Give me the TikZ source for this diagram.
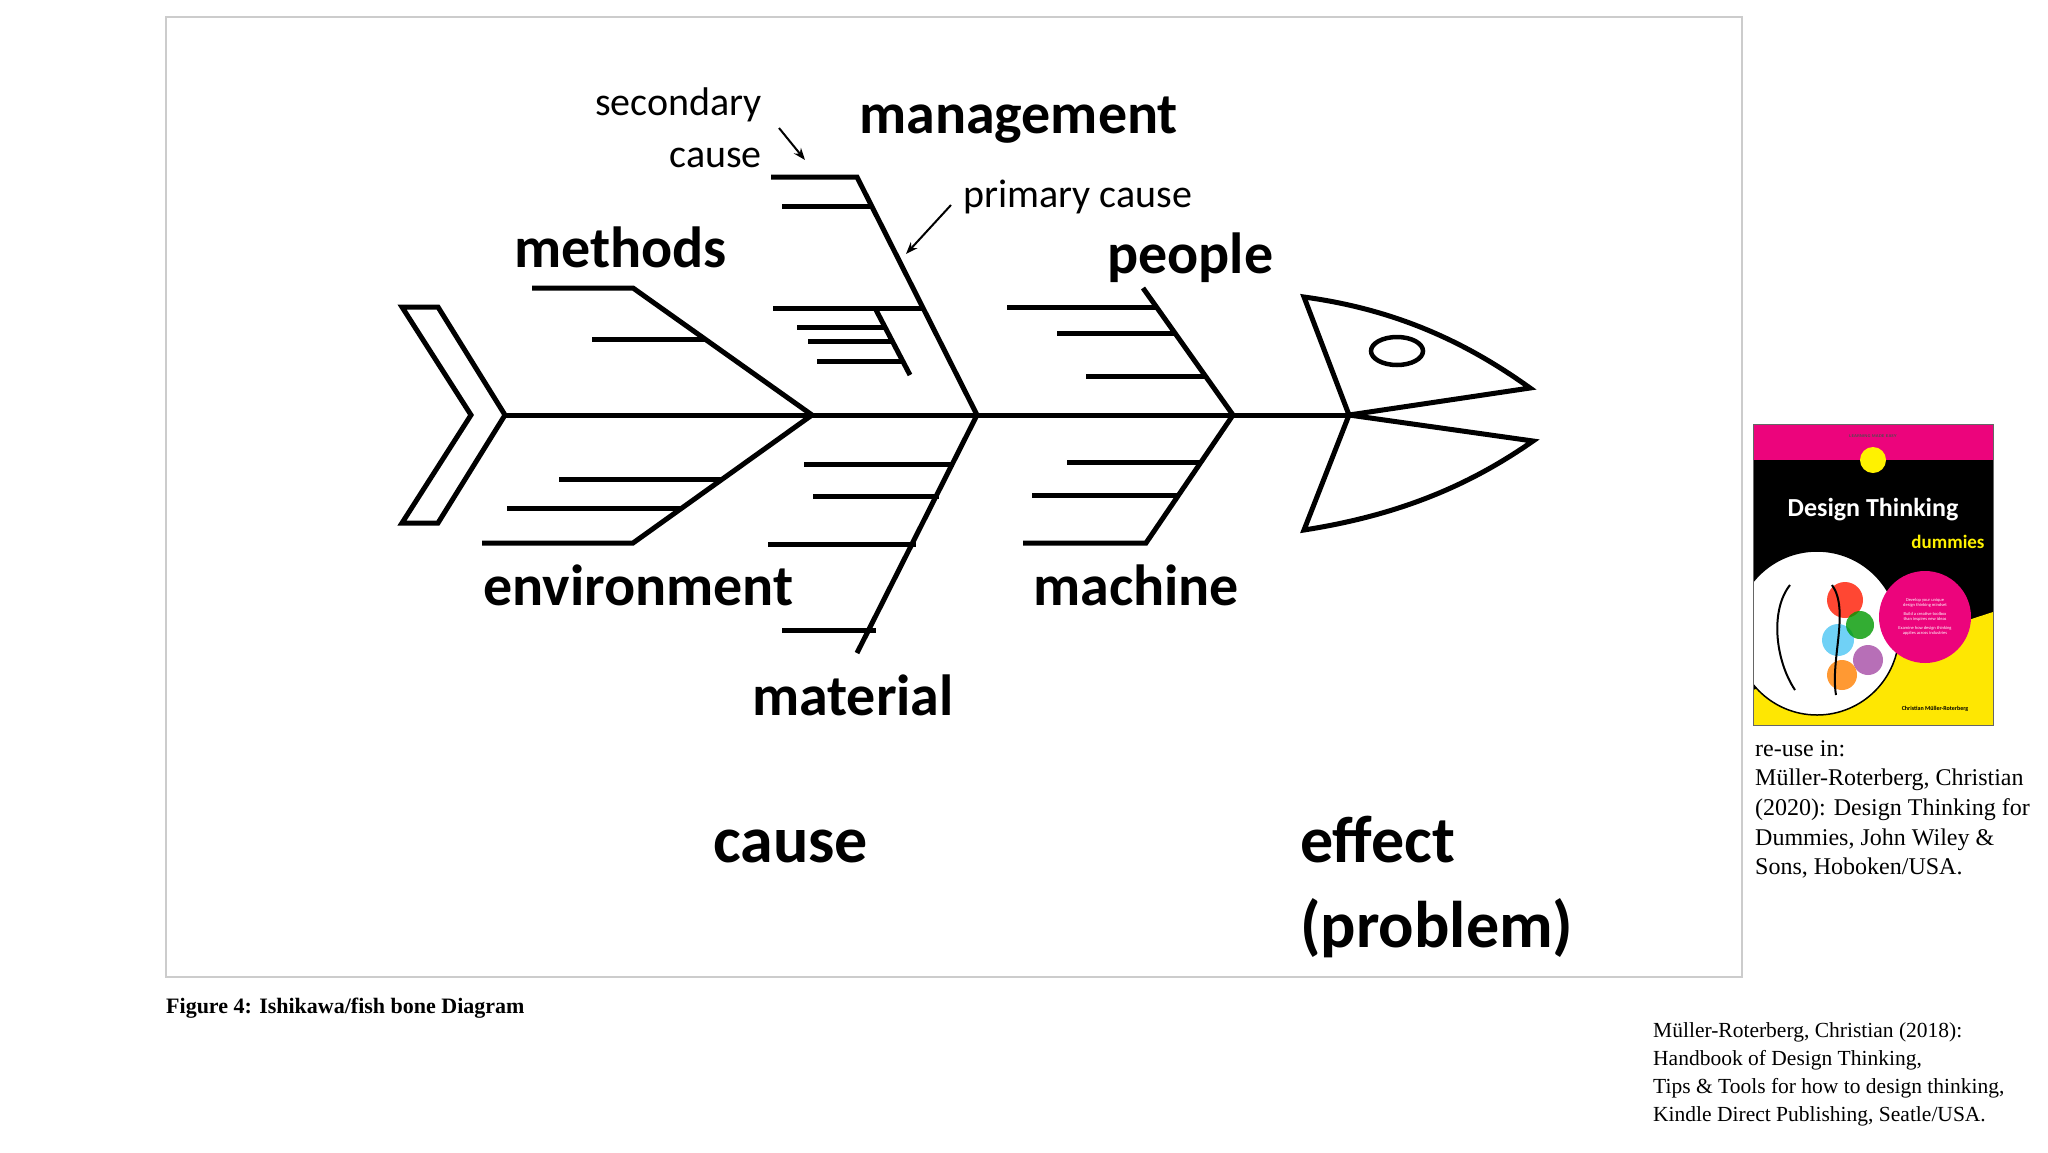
\documentclass[tikz,border=0pt]{standalone}
\usepackage{fontspec}
\setmainfont{Liberation Serif}
\newfontfamily\calib{Carlito}
\usetikzlibrary{arrows.meta}
\begin{document}
\begin{tikzpicture}[x=1pt,y=-1pt,
  bone/.style={line width=5pt,line join=miter},
  thinarrow/.style={line width=2pt,-{Stealth[length=12pt,width=9pt]}},
  biglbl/.style={anchor=base west,inner sep=0pt,font=\calib\bfseries\fontsize{58}{64}\selectfont},
  smalllbl/.style={inner sep=0pt,font=\calib\fontsize{40}{48}\selectfont},
  reftext/.style={anchor=north west,inner sep=0pt,align=left}]
\useasboundingbox (0,0) rectangle (2048,1152);
\fill[white] (0,0) rectangle (2048,1152);
\draw[line width=1.5pt,black!20] (166,17) rectangle (1742,977);

% spine
\coordinate (t) at (505,415);
\coordinate (j1) at (812,415);
\coordinate (j2) at (977,415);
\coordinate (j3) at (1233,415);
\coordinate (m) at (1349,415);
\draw[bone] (t) -- (m);
% tail
\draw[bone] (402,307) -- (438,307) -- (t) -- (438,523) -- (402,523) -- (471,415) -- cycle;
% methods
\draw[bone] (532,288) -- (633,288) -- (j1);
\draw[bone] (592,339) -- (705,339);
% environment
\draw[bone] (482,543) -- (633,543) -- (j1);
\draw[bone] (507,508) -- (682,508);
\draw[bone] (559,479) -- (722,479);
% management
\draw[bone] (771,177) -- (857,177) -- (j2);
\draw[bone] (782,206) -- (872,206);
\draw[bone] (773,308) -- (924,308);
\draw[bone] (875,308) -- (910,375);
\draw[bone] (797,327) -- (885,327);
\draw[bone] (808,341) -- (892,341);
\draw[bone] (817,361) -- (902,361);
% material
\draw[bone] (j2) -- (857,653);
\draw[bone] (804,464) -- (954,464);
\draw[bone] (813,496) -- (939,496);
\draw[bone] (768,544) -- (916,544);
\draw[bone] (782,630) -- (876,630);
% people
\draw[bone] (1143,288) -- (j3);
\draw[bone] (1007,307) -- (1157,307);
\draw[bone] (1057,333) -- (1175,333);
\draw[bone] (1086,376) -- (1205,376);
% machine
\draw[bone] (j3) -- (1146,543) -- (1023,543);
\draw[bone] (1067,462) -- (1202,462);
\draw[bone] (1032,495) -- (1180,495);
% head
\draw[bone] (m) -- (1304,297) .. controls (1400,310) and (1470,345) .. (1530,388) -- cycle;
\draw[bone] (m) -- (1533,441) .. controls (1470,485) and (1400,515) .. (1304,530) -- cycle;
\draw[line width=4.5pt] (1397,351) ellipse (26 and 14);

% labels
\node[biglbl] (lmeth) at (514,267) {methods};
\node[biglbl] (lman) at (859,133) {management};
\node[biglbl] (lpeo) at (1107,273) {people};
\node[biglbl] (lenv) at (483,605) {environment};
\node[biglbl] (lmac) at (1033,605) {machine};
\node[biglbl] (lmat) at (752,715) {material};
\node[biglbl,font=\calib\bfseries\fontsize{66}{80}\selectfont] (lcause) at (713,862) {cause};
\node[biglbl,font=\calib\bfseries\fontsize{66}{80}\selectfont] (leff) at (1300,862) {effect};
\node[biglbl,font=\calib\bfseries\fontsize{66}{80}\selectfont] (lprob) at (1300,947) {(problem)};
\node[smalllbl,anchor=base east] (lsec) at (762,115) {secondary};
\node[smalllbl,anchor=base east] (lsec2) at (762,167) {cause};
\node[smalllbl,anchor=base west] (lprim) at (963,207) {primary cause};
\coordinate (sa) at (779,128); \coordinate (sb) at (805,160);
\coordinate (pa) at (951,205); \coordinate (pb) at (906,254);
\draw[thinarrow] (sa) -- (sb);
\draw[thinarrow] (pa) -- (pb);

% caption
\node[anchor=base west,inner sep=0pt,font=\bfseries\fontsize{22}{26}\selectfont] (cap) at (166,1013) {Figure 4: Ishikawa/fish bone Diagram};

% book cover
\begin{scope}
\clip (1753,424) rectangle (1993,725);
\fill[black] (1753,424) rectangle (1993,725);
\fill[yellow!90!orange] (1753,725) -- (1753,690) -- (1993,612) -- (1993,725) -- cycle;
\fill[magenta!85!red] (1753,424) rectangle (1993,460);
\fill[white] (1817,633) circle (82);
\fill[red!80!orange,opacity=.8] (1845,600) circle (18);
\fill[cyan!70,opacity=.8] (1838,640) circle (16);
\fill[green!60!black,opacity=.8] (1860,625) circle (14);
\fill[violet!70,opacity=.8] (1868,660) circle (15);
\fill[orange,opacity=.8] (1842,675) circle (15);
\draw[line width=1.5pt] (1817,633) circle (82);
\draw[line width=2pt] (1790,585) .. controls (1770,610) and (1775,660) .. (1795,690);
\draw[line width=2pt] (1832,585) .. controls (1850,610) and (1830,660) .. (1836,695);
\fill[magenta!85!red] (1925,617) circle (46);
\end{scope}
\draw[black!60,line width=0.8pt] (1753,424) rectangle (1993,725);
\fill[yellow] (1873,460) circle (13);
\node[inner sep=0pt,text=black!70,font=\sffamily\bfseries\fontsize{4}{5}\selectfont] (easy) at (1873,436) {LEARNING MADE EASY};
\node[inner sep=0pt,text=white,font=\calib\bfseries\fontsize{26}{30}\selectfont] (title) at (1873,510) {Design Thinking};
\node[inner sep=0pt,text=yellow,font=\calib\bfseries\fontsize{19}{20}\selectfont] (dum) at (1948,542) {dummies};
\node[inner sep=0pt,text=white,align=center,font=\calib\fontsize{4.5}{5.5}\selectfont] (circ) at (1925,617) {Develop your unique\\design thinking mindset\\[3pt]Build a creative toolbox\\than inspires new ideas\\[3pt]Examine how design thinking\\applies across industries};
\node[inner sep=0pt,font=\calib\bfseries\fontsize{6}{7}\selectfont] (auth) at (1935,709) {Christian Müller-Roterberg};

% references
\node[reftext,font=\fontsize{24}{29.7}\selectfont] (reuse) at (1755,740) {re-use in:\\Müller-Roterberg, Christian\\(2020): Design Thinking for\\Dummies, John Wiley \&\\Sons, Hoboken/USA.};
\node[reftext,font=\fontsize{21.5}{28}\selectfont] (ref) at (1653,1022) {Müller-Roterberg, Christian (2018):\\Handbook of Design Thinking,\\Tips \& Tools for how to design thinking,\\Kindle Direct Publishing, Seatle/USA.};
\end{tikzpicture}
\end{document}
